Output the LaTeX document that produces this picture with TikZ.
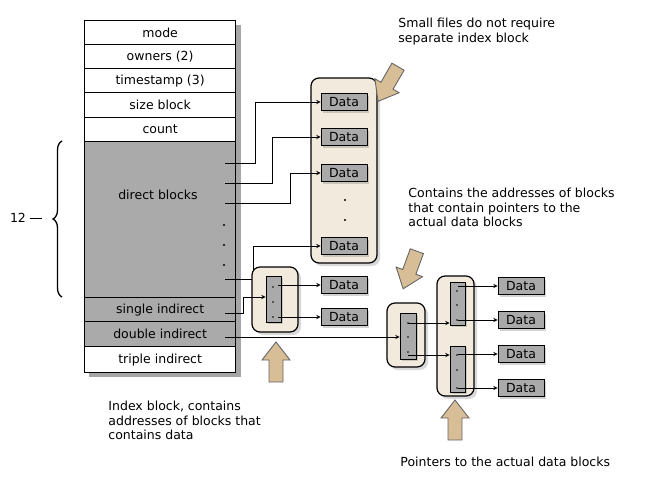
\documentclass[tikz,border=0pt]{standalone}
\usepackage{fontspec}
\setmainfont{DejaVu Sans}
\usetikzlibrary{decorations.pathreplacing,shadows}
\definecolor{tanbox}{RGB}{242,234,220}
\definecolor{tanarrow}{RGB}{216,190,150}
\definecolor{graycell}{RGB}{170,170,170}
\begin{document}
\begin{tikzpicture}[x=1pt,y=-1pt,font=\fontsize{12.5}{14.5}\selectfont,line width=0.9pt,
  cell/.style={draw,line width=1.3pt,minimum width=151pt,anchor=north west,inner sep=0pt},
  datab/.style={draw,fill=graycell,minimum width=46pt,minimum height=17pt,inner sep=0pt,drop shadow={opacity=.35,shadow xshift=2pt,shadow yshift=-2pt}},
  grp/.style={draw,line width=1.2pt,fill=tanbox,rounded corners=8pt,drop shadow={opacity=.3,shadow xshift=3pt,shadow yshift=-3pt}},
  idx/.style={draw,fill=graycell,drop shadow={opacity=.35,shadow xshift=2pt,shadow yshift=-2pt}},
  conn/.style={draw,->,>=stealth},
  note/.style={align=left,anchor=north west,inner sep=0pt}]
\useasboundingbox (0,0) rectangle (658,483);
\fill[black!35] (89,25) rectangle (241,377);
\node[cell,minimum height=24pt,fill=white] (mode) at (84,20) {mode};
\node[cell,minimum height=24pt,fill=white] (own) at (84,44) {owners (2)};
\node[cell,minimum height=24pt,fill=white] (ts) at (84,68) {timestamp (3)};
\node[cell,minimum height=25pt,fill=white] (sb) at (84,92) {size block};
\node[cell,minimum height=24pt,fill=white] (cnt) at (84,117) {count};
\node[cell,minimum height=156pt,fill=graycell] (dir) at (84,141) {};
\node at (158,195) {direct blocks};
\foreach \y in {225,245,265} \fill (224,\y) circle (1.2pt);
\node[cell,minimum height=24pt,fill=graycell] (si) at (84,297) {single indirect};
\node[cell,minimum height=25pt,fill=graycell] (di) at (84,321) {double indirect};
\node[cell,minimum height=26pt,fill=white] (ti) at (84,346) {triple indirect};
\draw[line width=1.3pt,decorate,decoration={brace,amplitude=9pt}] (62,297) -- (62,141);
\node (twelve) at (18,218) {12};
\draw (twelve.east) -- (42,218);
% big group
\path[grp] (311,78) rectangle (377,263);
\node[datab] (d1) at (344,102) {Data};
\node[datab] (d2) at (344,137) {Data};
\node[datab] (d3) at (344,173) {Data};
\node[datab] (d4) at (344,246) {Data};
\fill (345,200) circle (1.2pt); \fill (345,220) circle (1.2pt);
\coordinate (p1) at (225,163); \coordinate (p2) at (225,183);
\coordinate (p3) at (225,203); \coordinate (p4) at (225,279);
\draw[conn] (p1) -| (255,102) -- (d1.west);
\draw[conn] (p2) -| (272,137) -- (d2.west);
\draw[conn] (p3) -| (290,173) -- (d3.west);
\draw[conn] (p4) -| (253,246) -- (d4.west);
% single indirect
\path[grp] (252,267) rectangle (298,332);
\node[idx,minimum width=15pt,minimum height=46pt,inner sep=0pt] (sib) at (273.5,299) {};
\foreach \y in {287,302,317} \fill (273,\y) circle (.9pt);
\node[datab] (s1) at (344,285) {Data};
\node[datab] (s2) at (344,317) {Data};
\coordinate (psi) at (225,313);
\draw[conn] (psi) -| (243,297) -- (sib.west |- 0,297);
\draw[conn] (278,285) -- (s1.west);
\draw[conn] (278,317) -- (s2.west);
% double indirect
\path[grp] (387,303) rectangle (425,367);
\node[idx,minimum width=16pt,minimum height=46pt,inner sep=0pt] (dib) at (408,336) {};
\foreach \y in {323,337,352} \fill (408,\y) circle (.9pt);
\coordinate (pdi) at (225,337);
\draw[conn] (pdi) -- (dib.west |- 0,337);
\path[grp] (437,276) rectangle (474,396);
\node[idx,minimum width=15pt,minimum height=43pt,inner sep=0pt] (ib1) at (457.5,303.5) {};
\node[idx,minimum width=15pt,minimum height=46pt,inner sep=0pt] (ib2) at (457.5,369) {};
\foreach \y in {291,305,320,355,370,388} \fill (457,\y) circle (.9pt);
\draw[conn] (408,323) -- (ib1.west |- 0,323);
\draw[conn] (408,355) -- (ib2.west |- 0,355);
\node[datab] (e1) at (521,286) {Data};
\node[datab] (e2) at (521,320) {Data};
\node[datab] (e3) at (521,354) {Data};
\node[datab] (e4) at (521,388) {Data};
\draw[conn] (458,286) -- (e1.west);
\draw[conn] (458,320) -- (e2.west);
\draw[conn] (458,354) -- (e3.west);
\draw[conn] (458,388) -- (e4.west);
% tan arrows
\foreach \px/\py/\ang in {388/84/-120, 410/270/-110, 276/362/90, 455/420/90}{
  \begin{scope}[shift={(\px,\py)},rotate=\ang]
  \draw[fill=tanarrow,draw=black!60] (-20,-7) -- (2,-7) -- (2,-14) -- (20,0) -- (2,14) -- (2,7) -- (-20,7) -- cycle;
  \end{scope}}
% notes
\node[note] (n1) at (398,18) {Small files do not require\\separate index block};
\node[note] (n2) at (408,188) {Contains the addresses of blocks\\that contain pointers to the\\actual data blocks};
\node[note] (n3) at (108,401) {Index block, contains\\addresses of blocks that\\contains data};
\node[note] (n4) at (400,457) {Pointers to the actual data blocks};
\end{tikzpicture}
\end{document}
